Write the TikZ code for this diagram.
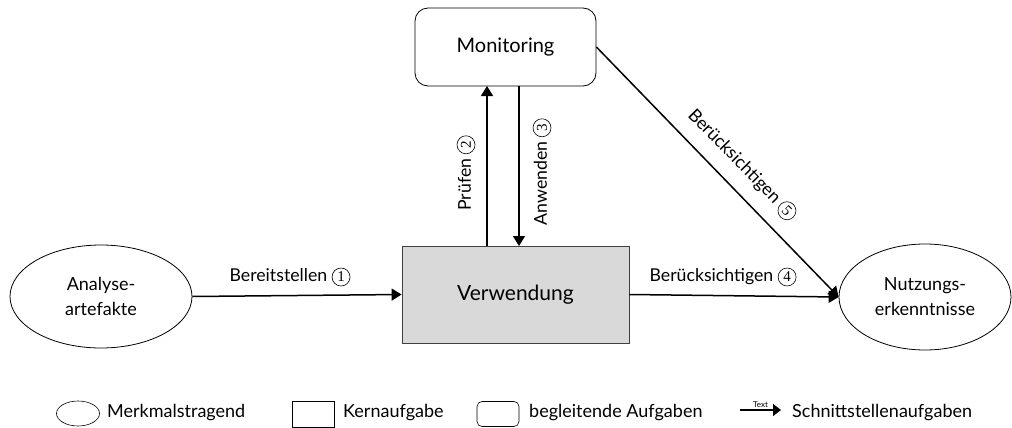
\documentclass[tikz,border=0pt]{standalone}
\usepackage{fontspec}
\setmainfont{Lato}
\newfontfamily\numfont{Liberation Serif}
\usetikzlibrary{arrows.meta,shapes.geometric}
% circled step number
\newcommand\cnum[1]{\tikz[baseline=(n.base)]\node[circle,draw,line width=0.6pt,inner sep=0pt,minimum size=18pt,font=\numfont\fontsize{15}{15}\selectfont](n){#1};}
\tikzset{
  flow/.style={line width=1.5pt,-{Triangle[length=10pt,width=12pt]}},
  lbl/.style={font=\fontsize{17.7}{20}\selectfont,inner sep=0pt},
  feature/.style={draw,line width=0.8pt,ellipse},
  legtext/.style={font=\fontsize{18}{20}\selectfont,anchor=west,inner sep=0pt}
}
\begin{document}
\begin{tikzpicture}[x=1pt,y=-1pt]
\useasboundingbox (0,0) rectangle (1012,428);
% main nodes
\node[draw,line width=0.8pt,rounded corners=13pt,minimum width=181pt,minimum height=78pt,
      font=\fontsize{20}{24}\selectfont] (mon) at (505.5,47) {Monitoring};
\node[draw=black!75,fill=black!15,line width=0.8pt,minimum width=227pt,minimum height=97pt,
      font=\fontsize{21}{25}\selectfont] (use) at (515.5,294.5) {Verwendung};
\node[feature,minimum width=182pt,minimum height=103pt,align=center,
      font=\fontsize{18}{25}\selectfont] (ana) at (101,296.5) {Analyse-\\artefakte};
\node[feature,minimum width=172pt,minimum height=106pt,align=center,
      font=\fontsize{18}{25}\selectfont] (nut) at (925,297) {Nutzungs-\\erkenntnisse};
% connectors
\coordinate (useP) at (487,246);
\coordinate (monP) at (487,86);
\coordinate (monA) at (519,86);
\coordinate (useA) at (519,246);
\draw[flow] (ana.east) -- (use.west);
\draw[flow] (useP) -- (monP);
\draw[flow] (monA) -- (useA);
\draw[flow] (use.east) -- (nut.west);
\draw[flow] (mon.east) -- (nut.west);
% connector labels
\node[lbl] (l1) at (290,277) {Bereitstellen \cnum{1}};
\node[lbl,rotate=90] (l2) at (466,173) {Prüfen \cnum{2}};
\node[lbl,rotate=90] (l3) at (542,172) {Anwenden \cnum{3}};
\node[lbl] (l4) at (723,277) {Berücksichtigen \cnum{4}};
\node[lbl,rotate=-45.5] (l5) at (742,165) {Berücksichtigen \cnum{5}};
% legend
\node[draw,ellipse,line width=0.6pt,minimum width=43pt,minimum height=25pt,inner sep=0pt] (k1) at (78,413.5) {};
\node[legtext] (t1) at (107,413) {Merkmalstragend};
\node[draw,line width=0.6pt,minimum width=42pt,minimum height=26pt,inner sep=0pt] (k2) at (313,414) {};
\node[legtext] (t2) at (343,413) {Kernaufgabe};
\node[draw,line width=0.6pt,rounded corners=5pt,minimum width=42pt,minimum height=25pt,inner sep=0pt] (k3) at (498,414) {};
\node[legtext] (t3) at (529,413) {begleitende Aufgaben};
\coordinate (k4a) at (740,410);
\coordinate (k4b) at (781,410);
\draw[line width=1.2pt,-{Triangle[length=8pt,width=12pt]}] (k4a) -- node[above,inner sep=1.5pt,font=\fontsize{8}{9}\selectfont] (k4t) {Text} (k4b);
\node[legtext] (t4) at (792,413) {Schnittstellenaufgaben};
\end{tikzpicture}
\end{document}
